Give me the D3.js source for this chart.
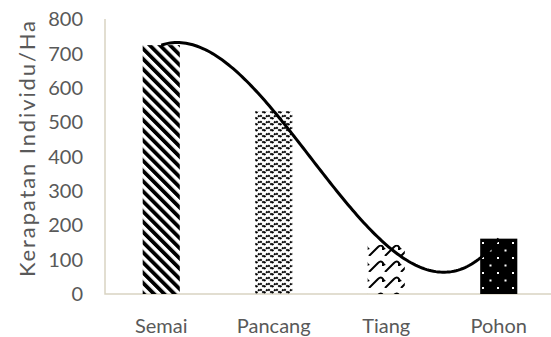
<!DOCTYPE html>
<html>
<head>
<meta charset="utf-8">
<script src="https://cdn.jsdelivr.net/npm/d3@7"></script>
<style>
  body { margin: 0; background: #fff; }
  text { font-family: Lato, "Open Sans", sans-serif; fill: #595959; }
</style>
</head>
<body>
<svg id="chart"></svg>
<script>
const categories = ["Semai", "Pancang", "Tiang", "Pohon"];
const values = [724, 532, 143, 161];
const yTicks = [0, 100, 200, 300, 400, 500, 600, 700, 800];
const patterns = ["stripes", "zigzag", "shingle", "dots"];
const yTitle = "Kerapatan Individu/Ha";

const width = 551, height = 337;
const svg = d3.select("#chart").attr("width", width).attr("height", height);

const x = d3.scaleBand().domain(categories).range([105, 555])
  .paddingInner(0.67).paddingOuter(0.335);
const y = d3.scaleLinear().domain([0, 800]).range([294, 19]);

// patterns
const defs = svg.append("defs");

defs.append("pattern")
  .attr("id", "stripes")
  .attr("patternUnits", "userSpaceOnUse")
  .attr("width", 7.2).attr("height", 7.2)
  .attr("patternTransform", "rotate(-45)")
  .append("rect")
  .attr("width", 3.8).attr("height", 7.2)
  .attr("fill", "#000");

const zz = defs.append("pattern")
  .attr("id", "zigzag")
  .attr("patternUnits", "userSpaceOnUse")
  .attr("width", 8).attr("height", 6);
zz.append("path")
  .attr("d", "M0,5 L4,1 L8,5")
  .attr("fill", "none").attr("stroke", "#000").attr("stroke-width", 2)
  .attr("stroke-dasharray", "2,1");

const sh = defs.append("pattern")
  .attr("id", "shingle")
  .attr("patternUnits", "userSpaceOnUse")
  .attr("width", 16).attr("height", 16);
sh.append("path")
  .attr("d", "M1,16 L10,7 Q13,4 15,7 L15,10 M0,9 L1,8")
  .attr("fill", "none").attr("stroke", "#000").attr("stroke-width", 2);

const dp = defs.append("pattern")
  .attr("id", "dots")
  .attr("patternUnits", "userSpaceOnUse")
  .attr("width", 15).attr("height", 15);
dp.append("rect").attr("width", 15).attr("height", 15).attr("fill", "#000");
dp.append("rect").attr("x", 2).attr("y", 2).attr("width", 2).attr("height", 2).attr("fill", "#fff");
dp.append("rect").attr("x", 9.5).attr("y", 9.5).attr("width", 2).attr("height", 2).attr("fill", "#fff");

// axis lines
svg.append("path")
  .attr("d", `M${x.range()[0]},${y(800)} V${y(0)} H${width}`)
  .attr("fill", "none")
  .attr("stroke", "#d9d4c2")
  .attr("stroke-width", 1.5);

// bars
svg.selectAll(".bar")
  .data(categories)
  .join("rect")
  .attr("class", "bar")
  .attr("x", d => x(d))
  .attr("width", x.bandwidth())
  .attr("y", (d, i) => y(values[i]))
  .attr("height", (d, i) => y(0) - y(values[i]))
  .attr("fill", (d, i) => `url(#${patterns[i]})`);

// polynomial (order 3) trendline, least squares fit on x = 1..n
function polyfit(xs, ys, order) {
  const n = order + 1;
  const A = Array.from({ length: n }, () => new Array(n + 1).fill(0));
  xs.forEach((xv, k) => {
    for (let r = 0; r < n; r++) {
      for (let c = 0; c < n; c++) A[r][c] += Math.pow(xv, r + c);
      A[r][n] += ys[k] * Math.pow(xv, r);
    }
  });
  for (let i = 0; i < n; i++) {
    let p = i;
    for (let r = i + 1; r < n; r++) if (Math.abs(A[r][i]) > Math.abs(A[p][i])) p = r;
    [A[i], A[p]] = [A[p], A[i]];
    for (let r = 0; r < n; r++) {
      if (r === i) continue;
      const f = A[r][i] / A[i][i];
      for (let c = i; c <= n; c++) A[r][c] -= f * A[i][c];
    }
  }
  return A.map((row, i) => row[n] / row[i]);
}
const xs = values.map((v, i) => i + 1);
const coef = polyfit(xs, values, 3);
const poly = t => coef.reduce((s, c, i) => s + c * Math.pow(t, i), 0);
const xPos = d3.scaleLinear().domain([1, categories.length])
  .range([x(categories[0]) + x.bandwidth() / 2, x(categories[categories.length - 1]) + x.bandwidth() / 2]);
const samples = d3.range(1, categories.length + 0.0001, 0.02);

svg.append("path")
  .datum(samples)
  .attr("d", d3.line().x(t => xPos(t)).y(t => y(poly(t))))
  .attr("fill", "none")
  .attr("stroke", "#000")
  .attr("stroke-width", 3);

// y tick labels
svg.selectAll(".ytick")
  .data(yTicks)
  .join("text")
  .attr("class", "ytick")
  .attr("x", 83)
  .attr("y", d => y(d))
  .attr("dy", "0.36em")
  .attr("text-anchor", "end")
  .style("font-size", "20px")
  .text(d => d);

// category labels
svg.selectAll(".xlab")
  .data(categories)
  .join("text")
  .attr("class", "xlab")
  .attr("x", d => x(d) + x.bandwidth() / 2)
  .attr("y", 333)
  .attr("text-anchor", "middle")
  .style("font-size", "20px")
  .text(d => d);

// y title
svg.append("text")
  .attr("transform", `translate(35,149) rotate(-90)`)
  .attr("text-anchor", "middle")
  .attr("textLength", 256)
  .attr("lengthAdjust", "spacing")
  .style("font-size", "22px")
  .text(yTitle);
</script>
</body>
</html>
